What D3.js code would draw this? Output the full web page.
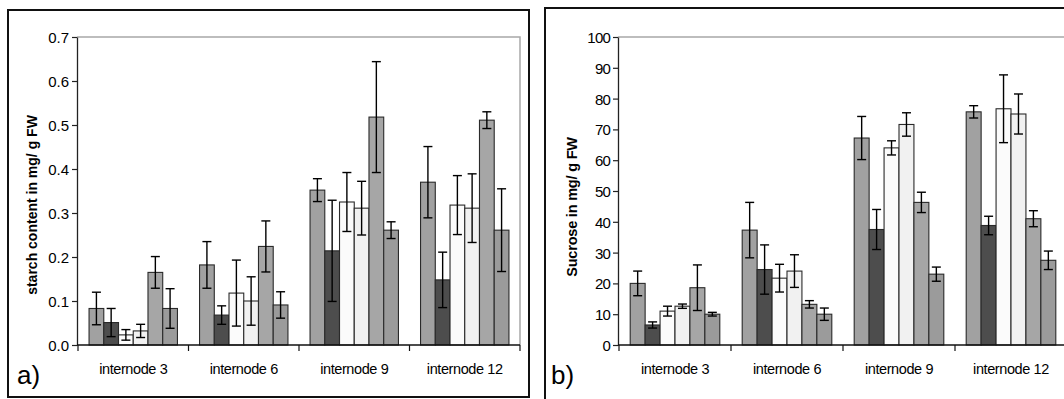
<!DOCTYPE html>
<html><head><meta charset="utf-8">
<script src="https://cdn.jsdelivr.net/npm/d3@7/dist/d3.min.js"></script>
<style>
body{margin:0;background:#fff;}
svg text{font-family:"Liberation Sans",Arial,sans-serif;fill:#000;}
</style></head><body>
<svg id="c" width="1064" height="399"></svg>
<script>
const categories = ["internode 3","internode 6","internode 9","internode 12"];
const seriesColors = ["#a1a1a1","#4d4d4d","#fbfbfb","#f1f1f1","#a6a6a6","#9b9b9b"];

// Panel a: starch content (mg/g FW), one array per series, values per internode
const starchS1 = [0.083,0.182,0.352,0.370];
const starchS2 = [0.051,0.068,0.214,0.148];
const starchS3 = [0.023,0.118,0.325,0.318];
const starchS4 = [0.032,0.100,0.311,0.311];
const starchS5 = [0.165,0.224,0.518,0.511];
const starchS6 = [0.083,0.091,0.261,0.261];
const starchE1 = [0.037,0.053,0.026,0.081];
const starchE2 = [0.032,0.021,0.115,0.063];
const starchE3 = [0.012,0.075,0.067,0.067];
const starchE4 = [0.015,0.055,0.061,0.078];
const starchE5 = [0.036,0.058,0.126,0.019];
const starchE6 = [0.045,0.030,0.019,0.094];
const starchTicks = [0,0.1,0.2,0.3,0.4,0.5,0.6,0.7];

// Panel b: sucrose (mg/g FW)
const sucroseS1 = [20.0,37.3,67.2,75.7];
const sucroseS2 = [6.5,24.5,37.5,38.8];
const sucroseS3 = [11.0,21.7,64.0,76.7];
const sucroseS4 = [12.6,24.0,71.6,75.0];
const sucroseS5 = [18.6,13.2,46.3,41.0];
const sucroseS6 = [10.0,10.0,23.0,27.5];
const sucroseE1 = [4.0,9.0,7.0,2.0];
const sucroseE2 = [1.0,8.0,6.5,3.0];
const sucroseE3 = [1.6,4.5,2.3,11.0];
const sucroseE4 = [0.7,5.3,3.8,6.5];
const sucroseE5 = [7.4,1.2,3.3,2.6];
const sucroseE6 = [0.6,2.0,2.3,3.0];
const sucroseTicks = [0,10,20,30,40,50,60,70,80,90,100];

const svg = d3.select("#c");

function panel(o){
  const g = svg.append("g");
  g.append("rect").attr("x",o.frame[0]).attr("y",o.frame[1]).attr("width",o.frame[2]).attr("height",o.frame[3])
    .attr("fill","none").attr("stroke","#111").attr("stroke-width",2);
  const x = d3.scaleBand().domain(categories).range([o.x0,o.x1]).padding(0);
  const y = d3.scaleLinear().domain(o.domain).range([o.yb,o.yt]);
  const off = x.bandwidth()*0.1;
  const inner = d3.scaleBand().domain(d3.range(6)).range([off, x.bandwidth()-off]);
  const bw = inner.bandwidth();
  g.append("path").attr("d",`M${o.x0-1},${y(o.domain[1])}H${o.x1}V${y(0)}`).attr("fill","none").attr("stroke","#a8a8a8").attr("stroke-width",1.5);
  o.series.forEach((vals,si)=>{
    vals.forEach((v,ci)=>{
      const bx = x(categories[ci]) + inner(si);
      g.append("rect").attr("x",bx).attr("y",y(v)).attr("width",bw).attr("height",y(0)-y(v))
        .attr("fill",seriesColors[si]).attr("stroke","#2a2a2a").attr("stroke-width",1.1);
    });
  });
  o.series.forEach((vals,si)=>{
    vals.forEach((v,ci)=>{
      const e = o.errs[si][ci];
      const cx = x(categories[ci]) + inner(si) + bw/2;
      const eg = g.append("g").attr("stroke","#000").attr("stroke-width",1.4);
      eg.append("line").attr("x1",cx).attr("x2",cx).attr("y1",y(v+e)).attr("y2",y(v-e));
      eg.append("line").attr("x1",cx-4.5).attr("x2",cx+4.5).attr("y1",y(v+e)).attr("y2",y(v+e));
      eg.append("line").attr("x1",cx-4.5).attr("x2",cx+4.5).attr("y1",y(v-e)).attr("y2",y(v-e));
    });
  });
  const ya = g.append("g").attr("transform",`translate(${o.x0-1},0)`)
    .call(d3.axisLeft(y).tickValues(o.ticks).tickFormat(o.fmt).tickSize(5).tickSizeOuter(0));
  ya.select(".domain").attr("stroke","#222").attr("stroke-width",1.3);
  ya.selectAll(".tick line").attr("stroke","#222").attr("stroke-width",1.2);
  ya.selectAll(".tick text").attr("font-size",15).attr("font-family","Liberation Sans, Arial, sans-serif")
    .attr("x",o.tx).attr("dy","0.36em").style("letter-spacing",o.ls);
  const xa = g.append("g").attr("transform",`translate(0,${y(0)})`);
  xa.append("line").attr("x1",o.x0-1).attr("x2",o.x1).attr("y1",0).attr("y2",0).attr("stroke","#111").attr("stroke-width",1.4);
  const bounds = categories.map(c=>x(c)).concat([o.x1]);
  bounds.forEach(b=>xa.append("line").attr("x1",b).attr("x2",b).attr("y1",0).attr("y2",6).attr("stroke","#111").attr("stroke-width",1.2));
  categories.forEach(c=>{
    xa.append("text").attr("x",x(c)+x.bandwidth()/2).attr("y",29).attr("text-anchor","middle")
      .attr("font-size",14.5).style("letter-spacing","-0.4px").text(c);
  });
  g.append("text").attr("transform",`translate(${o.lx},${o.ly}) rotate(-90)`).attr("text-anchor","middle")
    .attr("font-size",o.lfs).attr("font-weight","bold").style("letter-spacing",o.lls).text(o.label);
  g.append("text").attr("x",o.px).attr("y",384).attr("font-size",26).text(o.letter);
}

panel({
  frame:[8,10,521,387], x0:78, x1:520, yt:37, yb:345, domain:[0,0.7],
  ticks:starchTicks, fmt:d3.format(".1f"), ls:"0px", tx:-8,
  series:[starchS1,starchS2,starchS3,starchS4,starchS5,starchS6],
  errs:[starchE1,starchE2,starchE3,starchE4,starchE5,starchE6],
  label:"starch content in mg/ g FW", lx:37, ly:205, lfs:14, lls:"0px", letter:"a)", px:17
});
panel({
  frame:[545,8,600,420], x0:619, x1:1067, yt:37, yb:345, domain:[0,100],
  ticks:sucroseTicks, fmt:d3.format("d"), ls:"-0.8px", tx:-8,
  series:[sucroseS1,sucroseS2,sucroseS3,sucroseS4,sucroseS5,sucroseS6],
  errs:[sucroseE1,sucroseE2,sucroseE3,sucroseE4,sucroseE5,sucroseE6],
  label:"Sucrose in mg/ g FW", lx:577, ly:207, lfs:14.5, lls:"-0.2px", letter:"b)", px:551
});
</script>
</body></html>
